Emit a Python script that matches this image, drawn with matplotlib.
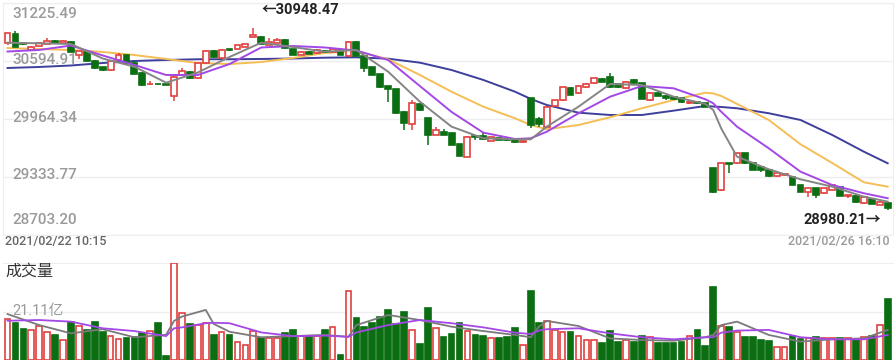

# Intraday candlestick chart with moving averages and volume panel
import numpy as np
import matplotlib
matplotlib.use('Agg')
import matplotlib.pyplot as plt

plt.rcParams['font.family'] = ['Roboto', 'Noto Sans CJK SC', 'DejaVu Sans']

# candle data (one bar per interval)
opens = [30787, 30885, 30795, 30714, 30761, 30780, 30812, 30790, 30800, 30660,
         30695, 30600, 30530, 30492, 30610, 30655, 30578, 30460, 30340, 30345,
         30345, 30210, 30445, 30480, 30407, 30572, 30705, 30626, 30720, 30722,
         30752, 30855, 30860, 30770, 30795, 30822, 30725, 30665, 30690, 30680,
         30707, 30697, 30715, 30645, 30805, 30645, 30530, 30450, 30320, 30290,
         30040, 29905, 30128, 29975, 29792, 29826, 29808, 29692, 29556, 29775,
         29780, 29730, 29755, 29748, 29740, 29712, 30190, 29965, 29880, 30108,
         30172, 30305, 30245, 30312, 30353, 30400, 30422, 30350, 30300, 30388,
         30352, 30172, 30250, 30215, 30206, 30188, 30140, 30152, 30135, 29428,
         29193, 29485, 29484, 29590, 29490, 29445, 29410, 29340, 29352, 29338,
         29247, 29176, 29210, 29157, 29195, 29229, 29122, 29128, 29050, 29100,
         29032, 29055]
highs = [30903, 30921, 30805, 30760, 30795, 30842, 30820, 30818, 30810, 30705,
         30700, 30610, 30535, 30600, 30685, 30665, 30590, 30470, 30378, 30350,
         30350, 30443, 30516, 30490, 30575, 30715, 30712, 30720, 30730, 30772,
         30785, 30948.47, 30870, 30842, 30845, 30830, 30730, 30700, 30700, 30720,
         30715, 30728, 30720, 30810, 30812, 30650, 30535, 30455, 30325, 30295,
         30050, 30171, 30135, 29980, 29881, 29860, 29815, 29695, 29780, 29790,
         29827, 29775, 29760, 29752, 29745, 29730, 30195, 29985, 30105, 30175,
         30315, 30312, 30330, 30355, 30412, 30408, 30468, 30358, 30375, 30395,
         30360, 30255, 30258, 30220, 30212, 30192, 30155, 30158, 30140, 29435,
         29490, 29490, 29598, 29598, 29495, 29450, 29415, 29378, 29365, 29345,
         29252, 29215, 29215, 29215, 29255, 29235, 29142, 29135, 29118, 29105,
         29070, 29060]
lows = [30769, 30747, 30770, 30705, 30755, 30775, 30785, 30785, 30690, 30613,
        30595, 30510, 30485, 30488, 30605, 30565, 30450, 30320, 30335, 30335,
        30330, 30155, 30440, 30400, 30400, 30565, 30630, 30620, 30700, 30718,
        30748, 30850, 30778, 30765, 30790, 30730, 30658, 30655, 30668, 30675,
        30688, 30692, 30655, 30635, 30645, 30480, 30440, 30300, 30150, 30020,
        29845, 29850, 30055, 29685, 29788, 29790, 29680, 29560, 29550, 29735,
        29740, 29725, 29732, 29730, 29700, 29705, 29862, 29880, 29870, 30100,
        30165, 30225, 30240, 30305, 30348, 30368, 30298, 30305, 30295, 30350,
        30178, 30165, 30210, 30171, 30175, 30140, 30128, 30130, 30090, 29157,
        29185, 29375, 29478, 29478, 29405, 29392, 29335, 29335, 29340, 29245,
        29170, 29120, 29102, 29150, 29190, 29125, 29110, 29050, 29045, 29038,
        29025, 28980.21]
closes = [30896, 30750, 30780, 30750, 30787, 30816, 30790, 30810, 30696, 30700,
          30600, 30518, 30492, 30595, 30655, 30572, 30455, 30335, 30345, 30340,
          30332, 30418, 30488, 30410, 30570, 30707, 30636, 30714, 30710, 30768,
          30779, 30875, 30782, 30805, 30818, 30735, 30662, 30690, 30675, 30712,
          30693, 30722, 30662, 30805, 30650, 30515, 30445, 30310, 30290, 30030,
          29920, 30140, 30065, 29790, 29845, 29793, 29685, 29563, 29772, 29765,
          29745, 29770, 29740, 29738, 29712, 29725, 29900, 29905, 30098, 30170,
          30309, 30230, 30322, 30350, 30405, 30372, 30312, 30315, 30368, 30355,
          30185, 30250, 30218, 30192, 30180, 30145, 30150, 30137, 30095, 29175,
          29482, 29470, 29590, 29484, 29412, 29412, 29340, 29372, 29358, 29250,
          29176, 29210, 29140, 29210, 29245, 29130, 29137, 29057, 29112, 29043,
          29065, 28995]
# volume in 亿
volumes = [17.8, 16.2, 13.5, 13.1, 14.8, 12.3, 10.9, 8.7, 16.7, 14.8,
           13.1, 16.5, 12.3, 10.4, 9.1, 9.6, 10.0, 11.9, 12.6, 16.0,
           1.7, 42.2, 20.5, 15.7, 15.2, 16.1, 10.9, 12.3, 10.9, 8.0,
           6.5, 12.6, 9.6, 9.6, 9.6, 11.9, 13.1, 10.4, 10.4, 10.4,
           13.1, 14.5, 2.2, 30.2, 18.1, 14.5, 16.2, 18.9, 21.8, 15.7,
           20.8, 13.1, 6.8, 22.5, 13.8, 9.9, 11.3, 16.0, 12.8, 10.9,
           10.4, 9.4, 9.4, 9.9, 13.8, 6.5, 30.2, 16.0, 17.0, 13.1,
           12.3, 12.3, 10.4, 8.7, 8.7, 7.3, 12.6, 8.0, 8.7, 7.8,
           10.4, 10.1, 7.5, 7.3, 7.3, 8.0, 10.4, 13.1, 6.1, 31.9,
           14.8, 14.5, 12.3, 9.9, 9.9, 8.7, 8.4, 5.8, 5.5, 10.6,
           9.0, 9.4, 9.9, 9.4, 9.4, 9.4, 9.4, 9.0, 10.1, 10.4,
           15.2, 26.4]

# moving average lines, read at these bar positions
ma_idx = [0, 4, 8, 12, 16, 20, 24, 28, 32, 36, 40, 44, 48, 52, 56, 60, 64, 66,
          68, 72, 76, 80, 84, 88, 89, 90, 92, 96, 100, 104, 108, 111]
ma5 = [30794, 30787, 30780, 30622, 30533, 30359, 30470, 30639, 30794, 30747,
       30696, 30715, 30479, 30153, 29881, 29755, 29744, 29744, 29881, 30098,
       30345, 30334, 30207, 30128, 30062, 29863, 29555, 29418, 29309, 29229,
       29120, 29066]
ma10 = [30698, 30715, 30763, 30655, 30552, 30443, 30443, 30562, 30742, 30758,
        30742, 30709, 30606, 30323, 30041, 29816, 29747, 29755, 29826, 30026,
        30207, 30323, 30298, 30179, 30135, 30044, 29881, 29646, 29392, 29247,
        29157, 29103]
ma20 = [30736, 30725, 30715, 30693, 30660, 30617, 30573, 30562, 30584, 30628,
        30682, 30704, 30613, 30443, 30261, 30098, 29972, 29899, 29853, 29899,
        29983, 30081, 30171, 30250, 30242, 30215, 30128, 29954, 29690, 29486,
        29276, 29229]
ma60 = [30519, 30530, 30546, 30573, 30595, 30606, 30614, 30614, 30617, 30622,
        30631, 30635, 30620, 30577, 30497, 30389, 30261, 30182, 30117, 30033,
        30008, 30008, 30055, 30106, 30100, 30095, 30081, 30027, 29954, 29791,
        29609, 29483]

# volume moving averages
vol_ma_idx = [0, 4, 8, 12, 16, 20, 21, 22, 25, 26, 28, 32, 36, 40, 43, 44, 48,
              52, 56, 60, 64, 66, 67, 68, 72, 76, 80, 84, 88, 89, 90, 92, 96,
              100, 104, 108, 111]
vol_ma5 = [20.0, 15.2, 11.6, 13.4, 9.9, 11.0, 17.0, 18.9, 21.8, 15.7, 12.3,
           9.9, 10.4, 10.9, 10.1, 15.2, 19.6, 17.4, 14.5, 12.6, 10.9, 9.9,
           14.5, 17.0, 14.8, 9.4, 8.7, 8.4, 9.9, 10.9, 15.2, 16.7, 10.9,
           8.0, 9.0, 9.4, 13.1]
vol_ma10 = [17.1, 17.4, 16.7, 13.8, 12.6, 10.4, 13.8, 14.2, 16.0, 16.2, 16.0,
            12.0, 10.4, 10.6, 10.1, 12.0, 15.2, 17.4, 16.0, 14.2, 11.9, 11.3,
            12.8, 13.4, 13.8, 11.6, 9.9, 9.0, 9.9, 9.9, 11.9, 12.8, 13.1,
            9.9, 9.0, 9.0, 10.9]

price_ticks = [31225.49, 30594.91, 29964.34, 29333.77, 28703.20]
vol_tick = 21.11
start_label = '2021/02/22 10:15'
end_label = '2021/02/26 16:10'

red = '#e2403f'
green = '#0b6e12'
grid_c = '#eeeeee'

W, H = 895, 362
fig = plt.figure(figsize=(W / 100, H / 100), dpi=100)


def px_axes(left, top, right, bottom):
    return fig.add_axes([left / W, 1 - bottom / H, (right - left) / W, (bottom - top) / H])


ax = px_axes(3, 3, 893, 235)
axv = px_axes(3, 263, 893, 360)

o = np.array(opens)
c = np.array(closes)
x = np.arange(len(o))
up = c >= o
edge = np.where(up, red, green)
face = np.where(up, 'white', green)

# candles
ax.vlines(x, lows, highs, colors=edge, lw=1.1, zorder=3)
body_bottom = np.minimum(o, c)
body_h = np.maximum(np.abs(c - o), 10)
ax.bar(x, body_h, bottom=body_bottom, width=0.74, color=face, edgecolor=edge,
       linewidth=1.2, zorder=4)

# moving averages
ax.plot(ma_idx, ma60, color='#3e3f9c', lw=1.4, zorder=2)
ax.plot(ma_idx, ma20, color='#f4be55', lw=1.4, zorder=2)
ax.plot(ma_idx, ma10, color='#a348e6', lw=1.4, zorder=5)
ax.plot(ma_idx, ma5, color='#858585', lw=1.4, zorder=5)

ax.set_xlim(-0.57, 111.67)
ax.set_ylim(price_ticks[-1], price_ticks[0])
for p in price_ticks:
    ax.axhline(p, color=grid_c, lw=1, zorder=0)
ax.set_xticks([])
ax.set_yticks([])
for s in ax.spines.values():
    s.set_color(grid_c)

# price labels sit on the grid lines
label_off = [-11, 1, 1.5, 2, 15]
for p, off in zip(price_ticks, label_off):
    ax.annotate(f'{p:.2f}', xy=(0, p), xycoords=ax.get_yaxis_transform(),
                xytext=(9, off), textcoords='offset pixels', va='center',
                ha='left', fontsize=11, fontweight='medium', color='#9a9a9a', zorder=6)

# high / low markers
ax.annotate('←30948.47', xy=(31, 30948.47), xytext=(8, 18), textcoords='offset pixels',
            ha='left', va='center', fontsize=10.5, fontweight='bold', color='#222222')
ax.annotate('28980.21→', xy=(111, 28980.21), xytext=(-7, -10), textcoords='offset pixels',
            ha='right', va='center', fontsize=10.5, fontweight='bold', color='#222222')

fig.text(5 / W, 1 - 241 / H, start_label, ha='left', va='center', fontsize=9,
         fontweight='medium', color='#666666')
fig.text(890 / W, 1 - 241 / H, end_label, ha='right', va='center', fontsize=9,
         fontweight='medium', color='#9a9a9a')

# volume panel
axv.bar(x, volumes, width=0.72, color=face, edgecolor=edge, linewidth=1.2, zorder=3)
axv.plot(vol_ma_idx, vol_ma5, color='#7a7a7a', lw=1.3, zorder=4)
axv.plot(vol_ma_idx, vol_ma10, color='#a348e6', lw=1.3, zorder=4)
axv.axhline(vol_tick, color=grid_c, lw=1, zorder=0)
axv.set_xlim(-0.57, 111.67)
axv.set_ylim(0, 2 * vol_tick)
axv.set_xticks([])
axv.set_yticks([])
for side in ['left', 'right', 'bottom']:
    axv.spines[side].set_visible(False)
axv.spines['top'].set_color(grid_c)

fig.text(5 / W, 1 - 271 / H, '成交量', ha='left', va='center', fontsize=11.5, color='#333333')
axv.annotate('21.11亿', xy=(0, vol_tick), xycoords=axv.get_yaxis_transform(),
             xytext=(9, 1), textcoords='offset pixels', ha='left', va='center',
             fontsize=10.5, color='#9a9a9a', zorder=6)

fig.savefig('out.png', dpi=100, facecolor='white')
